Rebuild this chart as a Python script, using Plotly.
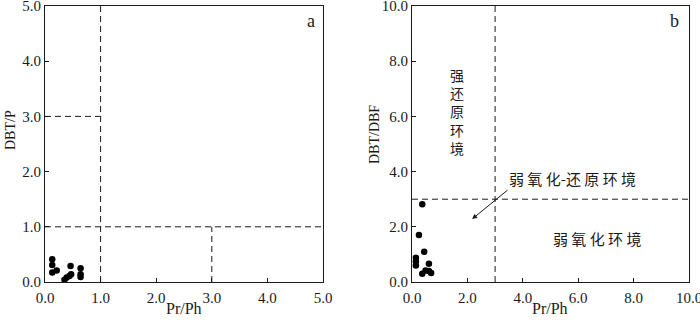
import plotly.graph_objects as go

# Panel a data: Pr/Ph vs DBT/P
a_prph = [0.13, 0.13, 0.13, 0.21, 0.35, 0.39, 0.44, 0.46, 0.47, 0.64, 0.64, 0.64]
a_dbtp = [0.41, 0.31, 0.17, 0.21, 0.04, 0.08, 0.11, 0.29, 0.14, 0.25, 0.14, 0.09]

# Panel b data: Pr/Ph vs DBT/DBF
b_prph = [0.37, 0.25, 0.44, 0.14, 0.14, 0.14, 0.61, 0.37, 0.49, 0.61, 0.69]
b_dbtdbf = [2.82, 1.70, 1.10, 0.88, 0.74, 0.60, 0.66, 0.30, 0.42, 0.40, 0.33]

# Threshold lines (data units)
a_vlines = [(1, 0, 5), (3, 0, 1)]          # (x, y0, y1)
a_hlines = [(3, 0, 1), (1, 0, 5)]          # (y, x0, x1)
b_vlines = [(3, 0, 10)]
b_hlines = [(3, 0, 10)]

a_ticks = [0, 1, 2, 3, 4, 5]
b_ticks = [0, 2, 4, 6, 8, 10]
a_ticklabels = ["0.0", "1.0", "2.0", "3.0", "4.0", "5.0"]
b_ticklabels = ["0.0", "2.0", "4.0", "6.0", "8.0", "10.0"]

SERIF = "Liberation Serif"
CJK = "Noto Sans CJK SC"
BLACK = "#1a1a1a"

fig = go.Figure()
fig.add_trace(go.Scatter(x=a_prph, y=a_dbtp, mode="markers",
                         marker=dict(color="black", size=6.5), xaxis="x", yaxis="y",
                         showlegend=False, cliponaxis=False))
fig.add_trace(go.Scatter(x=b_prph, y=b_dbtdbf, mode="markers",
                         marker=dict(color="black", size=6.5), xaxis="x2", yaxis="y2",
                         showlegend=False, cliponaxis=False))

dash = dict(color=BLACK, width=1, dash="6px,4px")
shapes = []
for x, y0, y1 in a_vlines:
    shapes.append(dict(type="line", xref="x", yref="y", x0=x, x1=x, y0=y0, y1=y1, line=dash))
for y, x0, x1 in a_hlines:
    shapes.append(dict(type="line", xref="x", yref="y", x0=x0, x1=x1, y0=y, y1=y, line=dash))
for x, y0, y1 in b_vlines:
    shapes.append(dict(type="line", xref="x2", yref="y2", x0=x, x1=x, y0=y0, y1=y1, line=dash))
for y, x0, x1 in b_hlines:
    shapes.append(dict(type="line", xref="x2", yref="y2", x0=x0, x1=x1, y0=y, y1=y, line=dash))

W, H = 700, 321
def xd(p0, p1):
    return [p0 / W, p1 / W]
ydom = [(H - 282) / H, (H - 6) / H]

axcommon = dict(showline=True, linecolor=BLACK, linewidth=1, mirror=True,
                ticks="inside", ticklen=4, tickcolor=BLACK, showgrid=False,
                zeroline=False, automargin=False, ticklabeloverflow="allow",
                tickfont=dict(family=SERIF, size=15, color=BLACK))
xaxcommon = dict(axcommon, ticklabelstandoff=2)

titlefont = dict(family=SERIF, size=16, color=BLACK)
ytitlefont = dict(family=SERIF, size=14, color=BLACK)
cjkfont = dict(family=CJK, size=15, color=BLACK)


def ann(text, px, py, font, **kw):
    return dict(text=text, xref="paper", yref="paper", x=px / W, y=(H - py) / H,
                xanchor="center", yanchor="middle", showarrow=False, font=font, **kw)


fig.update_layout(
    width=W, height=H,
    margin=dict(l=0, r=0, t=0, b=0, autoexpand=False),
    paper_bgcolor="white", plot_bgcolor="white",
    xaxis=dict(xaxcommon, domain=xd(45, 323), range=[0, 5], tickvals=a_ticks, ticktext=a_ticklabels, anchor="y"),
    yaxis=dict(axcommon, domain=ydom, range=[0, 5], tickvals=a_ticks, ticktext=a_ticklabels, anchor="x"),
    xaxis2=dict(xaxcommon, domain=xd(412, 689), range=[0, 10], tickvals=b_ticks, ticktext=b_ticklabels, anchor="y2"),
    yaxis2=dict(axcommon, domain=ydom, range=[0, 10], tickvals=b_ticks, ticktext=b_ticklabels, anchor="x2"),
    shapes=shapes,
    annotations=[
        ann("Pr/Ph", 184, 308, titlefont),
        ann("Pr/Ph", 550, 308, titlefont),
        ann("DBT/P", 10, 130, ytitlefont, textangle=-90),
        ann("DBT/DBF", 374, 135, ytitlefont, textangle=-90),
        ann("a", 311, 21, dict(family=SERIF, size=18, color=BLACK)),
        ann("b", 674, 21, dict(family=SERIF, size=18, color=BLACK)),
        ann("强<br>还<br>原<br>环<br>境", 457, 111, dict(family=CJK, size=14, color=BLACK)),
        ann("弱 氧 化-还 原 环 境", 572, 178, cjkfont),
        ann("弱 氧 化 环 境", 597, 238, cjkfont),
        dict(text="", xref="x2", yref="y2", x=2.17, y=2.28, axref="x2", ayref="y2",
             ax=3.5, ay=3.37, showarrow=True, arrowhead=2, arrowsize=1, arrowwidth=1,
             arrowcolor=BLACK),
    ],
)

fig.write_html("out.html", config={"displayModeBar": False},
               post_script="document.body.style.margin='0';document.body.style.overflow='hidden';")
